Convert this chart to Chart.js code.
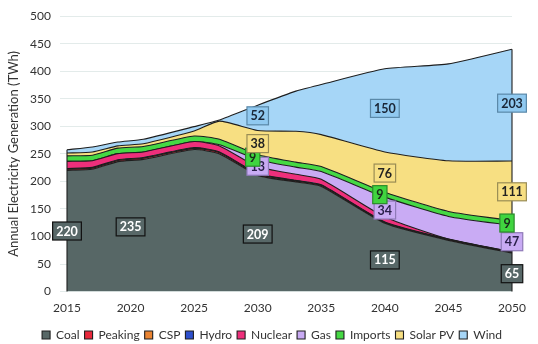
<!DOCTYPE html>
<html>
<head>
<meta charset="utf-8">
<script src="https://cdn.jsdelivr.net/npm/chart.js@4.4.1/dist/chart.umd.min.js"></script>
<style>
  html, body { margin: 0; padding: 0; background: #ffffff; }
  #wrap { width: 538px; height: 344px; }
</style>
</head>
<body>
<div id="wrap"><canvas id="c" width="538" height="344"></canvas></div>
<script>
// ---- data ----
const years   = [2015, 2017, 2019, 2021, 2025, 2027, 2030, 2033, 2035, 2040, 2045, 2050];
const coal    = [220, 222, 236, 240, 258, 250, 211, 199, 191, 124, 93, 70];
const peaking = [2, 2, 2, 2, 2, 2, 2, 1.5, 1.5, 1, 1, 0.5];
const csp     = [0.5, 0.5, 0.5, 0.5, 0.5, 0.5, 0.5, 0.5, 0.5, 0.5, 0.5, 0.5];
const hydro   = [1, 1, 1, 1, 1, 1, 1, 1, 1, 1, 1, 1];
const nuclear = [13, 12, 11, 10, 11, 11, 12, 11, 10, 9, 0, 0];
const gas     = [0, 0, 0, 0, 0, 2, 13, 13, 14, 36, 41, 48];
const imports = [10, 10, 10, 10, 10, 10, 9, 9, 9, 9, 9, 9];
const solarPV = [5, 6, 4, 5, 9, 33, 44, 56, 58, 73, 92, 108];
const wind    = [6, 9, 7, 8, 8, 2, 46, 73, 91, 151, 176, 203];

const seriesNames = ['Coal', 'Peaking', 'CSP', 'Hydro', 'Nuclear', 'Gas', 'Imports', 'Solar PV', 'Wind'];
const xTickYears  = [2015, 2020, 2025, 2030, 2035, 2040, 2045, 2050];

// data labels shown in the reference
const labelYears   = [2015, 2020, 2030, 2040, 2050];
const coalLabels   = [220, 235, 209, 115, 65];
const gasLabels    = [null, null, 13, 34, 47];
const importLabels = [null, null, 9, 9, 9];
const solarLabels  = [null, null, 38, 76, 111];
const windLabels   = [null, null, 52, 150, 203];

// ---- styling ----
const fills = ['#576766', '#e8283c', '#ea8432', '#2d4fcc', '#ee2f7b', '#c9abf4', '#45d844', '#f7df82', '#a6d6f7'];
const seriesValues = [coal, peaking, csp, hydro, nuclear, gas, imports, solarPV, wind];

const datasets = seriesValues.map((vals, i) => ({
  label: seriesNames[i],
  data: vals.map((v, k) => ({ x: years[k], y: v })),
  backgroundColor: fills[i],
  borderColor: '#1e1e1e',
  borderWidth: 1.1,
  pointRadius: 0,
  pointHoverRadius: 0,
  tension: 0.18,
  fill: i === 0 ? 'origin' : '-1'
}));

const labelStyles = {
  0: { fill: '#586868', stroke: '#111111', text: '#ffffff' },
  5: { fill: '#c9abf4', stroke: '#8f7ab8', text: '#2a1f4a' },
  6: { fill: '#40d43f', stroke: '#2a8a2a', text: '#1a2a1a' },
  7: { fill: '#f7df82', stroke: '#9a8d55', text: '#222222' },
  8: { fill: '#90c9f0', stroke: '#5a88a8', text: '#1a2636' }
};
const labelSets = [
  { ds: 0, vals: coalLabels },
  { ds: 5, vals: gasLabels, dy: 3 },
  { ds: 6, vals: importLabels, dx: -5 },
  { ds: 7, vals: solarLabels, dy: 1 },
  { ds: 8, vals: windLabels, dy: -2 }
];

function stackBelow(dsIndex, k) {
  let s = 0;
  for (let j = 0; j < dsIndex; j++) s += seriesValues[j][k];
  return s;
}

const edgePlugin = {
  id: 'edges',
  afterDatasetsDraw(chart) {
    const ctx = chart.ctx;
    const top = chart.getDatasetMeta(seriesValues.length - 1).data;
    const ys = chart.scales.y;
    ctx.save();
    ctx.strokeStyle = '#1e1e1e';
    ctx.lineWidth = 1.1;
    [0, top.length - 1].forEach(idx => {
      const p = top[idx];
      ctx.beginPath();
      ctx.moveTo(p.x, p.y);
      ctx.lineTo(p.x, ys.getPixelForValue(0));
      ctx.stroke();
    });
    ctx.restore();
  }
};

const labelPlugin = {
  id: 'boxLabels',
  afterDraw(chart) {
    const ctx = chart.ctx;
    const xs = chart.scales.x, ys = chart.scales.y;
    ctx.save();
    ctx.font = 'bold 12.5px Lato';
    ctx.textAlign = 'center';
    ctx.textBaseline = 'middle';
    labelSets.forEach(set => {
      const st = labelStyles[set.ds];
      set.vals.forEach((v, i) => {
        if (v === null) return;
        const yr = labelYears[i];
        let yVal;
        if (set.ds === 0) {
          yVal = v / 2;
        } else {
          const k = years.indexOf(yr);
          yVal = stackBelow(set.ds, k) + seriesValues[set.ds][k] / 2;
        }
        const cx = xs.getPixelForValue(yr) + (set.dx || 0);
        const cy = ys.getPixelForValue(yVal) + (set.dy || 0);
        const txt = String(v);
        const w = ctx.measureText(txt).width + 7;
        const h = 18;
        ctx.fillStyle = st.fill;
        ctx.fillRect(cx - w / 2, cy - h / 2, w, h);
        ctx.strokeStyle = st.stroke;
        ctx.lineWidth = 1.2;
        ctx.strokeRect(cx - w / 2, cy - h / 2, w, h);
        ctx.fillStyle = st.text;
        ctx.fillText(txt, cx, cy + 0.5);
      });
    });
    ctx.restore();
  }
};

Chart.defaults.font.family = 'Lato';
Chart.defaults.color = '#333333';

new Chart(document.getElementById('c'), {
  type: 'line',
  data: { datasets },
  options: {
    responsive: false,
    devicePixelRatio: 1,
    animation: false,
    layout: { padding: { top: 9.5, right: 0, bottom: -7, left: 6 } },
    plugins: {
      legend: {
        position: 'bottom',
        labels: {
          boxWidth: 8,
          boxHeight: 8,
          padding: 5,
          color: '#333333',
          font: { size: 12 }
        }
      },
      tooltip: { enabled: false }
    },
    scales: {
      x: {
        type: 'linear',
        min: 2015,
        max: 2050,
        grid: { display: false, drawTicks: false },
        border: { display: false },
        afterBuildTicks(scale) { scale.ticks = xTickYears.map(v => ({ value: v })); },
        ticks: {
          padding: 9,
          color: '#333333',
          font: { size: 12 },
          callback: v => String(v)
        }
      },
      y: {
        stacked: true,
        min: 0,
        max: 500,
        afterFit(scale) { scale.width = 61; },
        grid: { color: '#e3ebea', lineWidth: 1, tickLength: 7, drawTicks: true },
        border: { display: false },
        ticks: { stepSize: 50, padding: 9, color: '#333333', font: { size: 12 } },
        title: {
          display: true,
          text: 'Annual Electricity Generation (TWh)',
          color: '#333333',
          font: { size: 13 },
          padding: { top: 0, bottom: 0 }
        }
      },
      yRight: {
        position: 'right',
        display: true,
        min: 0,
        max: 500,
        afterFit(scale) { scale.width = 26; },
        grid: { display: false, drawTicks: false },
        border: { display: false },
        ticks: { display: false }
      }
    }
  },
  plugins: [edgePlugin, labelPlugin]
});
</script>
</body>
</html>
